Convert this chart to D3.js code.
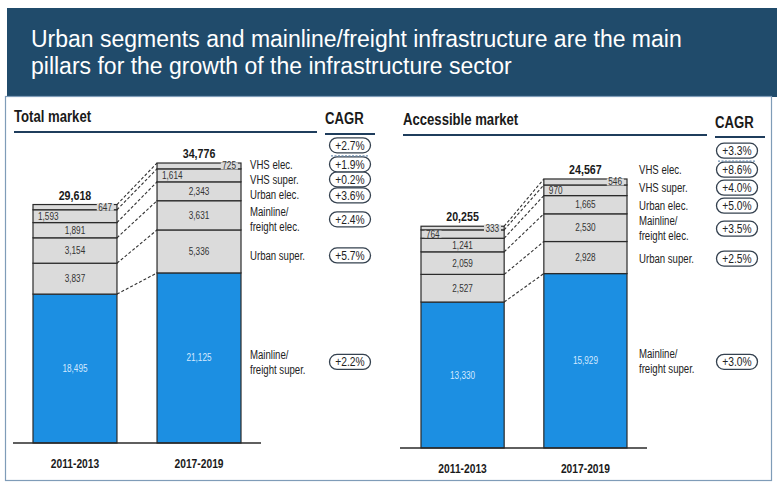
<!DOCTYPE html>
<html><head><meta charset="utf-8">
<script src="https://cdn.jsdelivr.net/npm/d3@7"></script>
<style>body{margin:0;background:#fff}svg{display:block}</style>
</head><body><svg id="c" width="781" height="491"></svg>
<script>
// ---------- data ----------
const titleLines = ["Urban segments and mainline/freight infrastructure are the main",
                    "pillars for the growth of the infrastructure sector"];
const periods = ["2011-2013", "2017-2019"];
const segmentNames = [["Mainline/", "freight super."], ["Urban super."], ["Mainline/", "freight elec."],
                      ["Urban elec."], ["VHS super."], ["VHS elec."]];
const totalValues2011 = [18495, 3837, 3154, 1891, 1593, 647];
const totalValues2017 = [21125, 5336, 3631, 2343, 1614, 725];
const totalSums = [29618, 34776];
const totalCagr = ["+2.2%", "+5.7%", "+2.4%", "+3.6%", "+0.2%", "+1.9%"];
const totalCagrAll = "+2.7%";
const accessValues2011 = [13330, 2527, 2059, 1241, 764, 333];
const accessValues2017 = [15929, 2928, 2530, 1665, 970, 546];
const accessSums = [20255, 24567];
const accessCagr = ["+3.0%", "+2.5%", "+3.5%", "+5.0%", "+4.0%", "+8.6%"];
const accessCagrAll = "+3.3%";

// ---------- style / layout ----------
const SANS = "'Liberation Sans',Arial,Helvetica,sans-serif";
const BLUE = "#1c8fe2", GREY = "#dbdbdb", INK = "#2a2a2a", HEADER = "#204b6b";
const labelAlign = ["middle", "middle", "middle", "middle", "start", "end"];

const panels = [
  { title: "Total market", values: [totalValues2011, totalValues2017], sums: totalSums,
    cagr: totalCagr, cagrAll: totalCagrAll,
    titleX: 14, titleY: 122, ruleY: 132, ruleX1: 317, cagrX: 325, cagrY: 124, cagrRuleY: 134, cagrRuleX1: 375,
    pillCx: 350, barX0: 33, barX1: 241, axisX0: 13, axisX1: 261, baseY: 443, topY: 163,
    labelX: 250, labelOffset: 4, minGap: 13, catPad: 16 },
  { title: "Accessible market", values: [accessValues2011, accessValues2017], sums: accessSums,
    cagr: accessCagr, cagrAll: accessCagrAll,
    titleX: 403, titleY: 125, ruleY: 135, ruleX1: 707, cagrX: 715, cagrY: 128, cagrRuleY: 137, cagrRuleX1: 765,
    pillCx: 737, barX0: 421, barX1: 627, axisX0: 400, axisX1: 647, baseY: 448, topY: 179,
    labelX: 639, labelOffset: 1, minGap: 18, catPad: 16 }
];

const svg = d3.select("#c");
const fmt = d3.format(",");
// emulate a narrow (condensed) face by compressing glyphs horizontally
function squeeze(sel, f = 0.82) {
  sel.each(function () {
    const w = this.getComputedTextLength();
    d3.select(this).attr("textLength", w * f).attr("lengthAdjust", "spacingAndGlyphs");
  });
  return sel;
}
function ntext(parent, size, bold) {
  return parent.append("text").attr("font-family", SANS).attr("font-size", size)
    .attr("font-weight", bold ? "bold" : "normal");
}

// header
svg.append("rect").attr("x", 7).attr("y", 8).attr("width", 770).attr("height", 89).attr("fill", HEADER);
svg.append("g").selectAll("text").data(titleLines).join("text")
  .attr("font-family", SANS).attr("font-size", 23).attr("fill", "#fff")
  .attr("x", 31).attr("y", (d, i) => 47 + i * 27).text(d => d);
// panel border
svg.append("rect").attr("x", 5.5).attr("y", 96.5).attr("width", 766).attr("height", 384)
  .attr("fill", "none").attr("stroke", "#7f9cb8").attr("stroke-width", 1.2);

panels.forEach(p => {
  const g = svg.append("g");
  // headings
  squeeze(ntext(g, 16, true).attr("x", p.titleX).attr("y", p.titleY).attr("fill", "#1a1a1a").text(p.title));
  g.append("line").attr("x1", p.titleX).attr("x2", p.ruleX1).attr("y1", p.ruleY).attr("y2", p.ruleY)
    .attr("stroke", "#1f3d5c").attr("stroke-width", 2);
  squeeze(ntext(g, 16, true).attr("x", p.cagrX).attr("y", p.cagrY).attr("fill", "#1a1a1a").text("CAGR"));
  g.append("line").attr("x1", p.cagrX).attr("x2", p.cagrRuleX1).attr("y1", p.cagrRuleY).attr("y2", p.cagrRuleY)
    .attr("stroke", "#1f3d5c").attr("stroke-width", 2);

  const x = d3.scaleBand().domain(periods).range([p.barX0, p.barX1]).paddingInner(0.323).paddingOuter(0);
  const y = d3.scaleLinear().domain([0, d3.max(p.sums)]).range([p.baseY, p.topY]);
  const keys = d3.range(segmentNames.length);
  const rows = periods.map((per, i) => Object.assign({ period: per }, p.values[i]));
  const series = d3.stack().keys(keys)(rows);

  // dashed connectors between segment tops
  g.append("g").selectAll("line").data(series).join("line")
    .attr("x1", s => x(periods[0]) + x.bandwidth()).attr("y1", s => y(s[0][1]))
    .attr("x2", s => x(periods[1])).attr("y2", s => y(s[1][1]))
    .attr("stroke", "#333").attr("stroke-width", 1.1).attr("stroke-dasharray", "3,2");

  // bars
  const segG = g.append("g").selectAll("g").data(series).join("g");
  segG.selectAll("rect").data(s => s.map(d => ({ d, key: s.key }))).join("rect")
    .attr("x", o => x(o.d.data.period)).attr("width", x.bandwidth())
    .attr("y", o => y(o.d[1])).attr("height", o => y(o.d[0]) - y(o.d[1]))
    .attr("fill", o => o.key === 0 ? BLUE : GREY).attr("stroke", INK).attr("stroke-width", 1.2);

  // value labels
  series.forEach(s => {
    s.forEach(d => {
      const xl = x(d.data.period), bw = x.bandwidth();
      const cy = (y(d[0]) + y(d[1])) / 2;
      const align = labelAlign[s.key];
      const tx = align === "middle" ? xl + bw / 2 : align === "start" ? xl + 5 : xl + bw - 5;
      const t = ntext(g, 10, false).attr("x", tx).attr("y", cy).attr("dy", "0.35em")
        .attr("text-anchor", align)
        .attr("fill", s.key === 0 ? "#d3e9ff" : "#333").text(fmt(d.data[s.key]));
      squeeze(t);
      if (align !== "middle") {
        const bb = t.node().getBBox();
        g.insert("rect", () => t.node()).attr("x", bb.x - 1.5).attr("y", cy - 3.5)
          .attr("width", bb.width + 3).attr("height", 7).attr("fill", GREY);
      }
    });
  });

  // totals
  squeeze(g.append("g").selectAll("text").data(periods).join("text")
    .attr("x", d => x(d) + x.bandwidth() / 2).attr("y", (d, i) => y(p.sums[i]) - 5)
    .attr("text-anchor", "middle").attr("font-family", SANS).attr("font-weight", "bold")
    .attr("font-size", 13).attr("fill", "#1a1a1a").text((d, i) => fmt(p.sums[i])));

  // baseline + category axis
  g.append("line").attr("x1", p.axisX0).attr("x2", p.axisX1).attr("y1", p.baseY).attr("y2", p.baseY)
    .attr("stroke", INK).attr("stroke-width", 1.5);
  const ax = g.append("g").attr("transform", `translate(0,${p.baseY})`)
    .call(d3.axisBottom(x).tickSize(0).tickPadding(p.catPad));
  ax.select(".domain").remove();
  squeeze(ax.selectAll("text").attr("font-family", SANS).attr("font-weight", "bold").attr("font-size", 12.5)
    .attr("fill", "#1a1a1a"));

  // series labels at right (centred on segment of 2nd bar, pushed apart upwards)
  const centers = series.map(s => (y(s[1][0]) + y(s[1][1])) / 2 + p.labelOffset);
  const halfH = segmentNames.map(n => n.length * 7.5);
  for (let j = 1; j < centers.length; j++) {
    const lim = centers[j - 1] - Math.max(p.minGap, halfH[j - 1] + halfH[j]);
    centers[j] = Math.min(centers[j], lim);
  }
  segmentNames.forEach((lines, j) => {
    lines.forEach((ln, k) => {
      squeeze(ntext(g, 12, false).attr("fill", "#222").attr("x", p.labelX)
        .attr("y", centers[j] + (k - (lines.length - 1) / 2) * 15).attr("dy", "0.35em").text(ln), 0.8);
    });
    // CAGR pill
    const pg = g.append("g").attr("transform", `translate(${p.pillCx},${centers[j]})`);
    pg.append("rect").attr("x", -20.5).attr("y", -7.5).attr("width", 41).attr("height", 15).attr("rx", 7.5)
      .attr("fill", "#fff").attr("stroke", "#34414f").attr("stroke-width", 1.3);
    squeeze(ntext(pg, 12.5, false).attr("text-anchor", "middle").attr("dy", "0.36em")
      .attr("fill", "#222").text(p.cagr[j]));
  });
  // overall CAGR pill
  const topC = centers[centers.length - 1] - 19;
  const tg = g.append("g").attr("transform", `translate(${p.pillCx},${topC})`);
  tg.append("rect").attr("x", -20.5).attr("y", -7.5).attr("width", 41).attr("height", 15).attr("rx", 7.5)
    .attr("fill", "#fff").attr("stroke", "#34414f").attr("stroke-width", 1.3);
  squeeze(ntext(tg, 12.5, false).attr("text-anchor", "middle").attr("dy", "0.36em")
    .attr("fill", "#222").text(p.cagrAll));
  g.append("line").attr("x1", p.pillCx - 19).attr("x2", p.pillCx + 19)
    .attr("y1", topC + 10.5).attr("y2", topC + 10.5)
    .attr("stroke", "#6f90b3").attr("stroke-width", 1.3).attr("stroke-dasharray", "2,1.5");
});
</script></body></html>
